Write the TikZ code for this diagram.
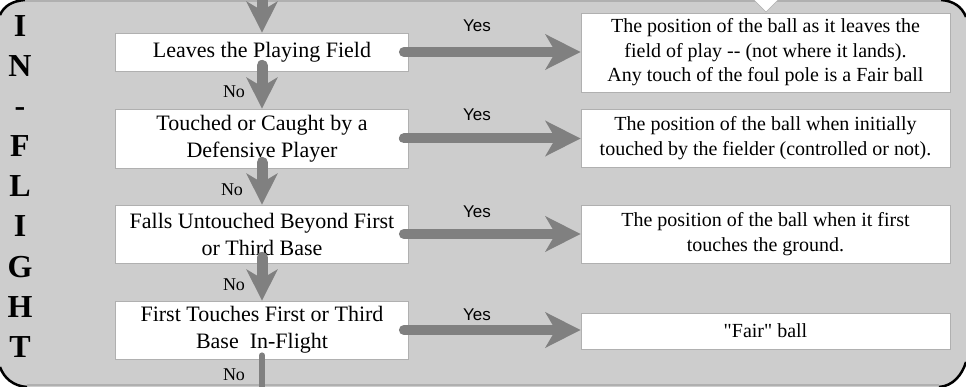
\documentclass[tikz,border=0pt]{standalone}
\usepackage{fontspec}
\setmainfont{Liberation Serif}
\newfontfamily\labelsans{Liberation Sans}
\newfontfamily\plainserif{Liberation Serif}
\usetikzlibrary{arrows.meta}
\definecolor{panelgray}{HTML}{CDCDCD}
\definecolor{flowgray}{HTML}{808080}
\definecolor{edgegray}{HTML}{B0B0B0}

\begin{document}
\begin{tikzpicture}[x=1pt,y=-1pt,
    testbox/.style={draw=edgegray,fill=white,line width=0.8pt,minimum width=293pt,inner sep=0pt,align=center,font=\fontsize{22}{27}\selectfont},
    resultbox/.style={draw=edgegray,fill=white,line width=0.8pt,minimum width=369pt,inner sep=0pt,align=center,font=\fontsize{20}{24.5}\selectfont},
    yesarrow/.style={draw=flowgray,line width=10pt,line cap=round,-{Stealth[length=35pt,width=35pt,inset=10pt]}},
    noarrow/.style={draw=flowgray,line width=11pt,line cap=round,-{Stealth[length=31pt,width=31pt,inset=9pt]}},
    cornerarc/.style={line width=2.5pt},
    yeslabel/.style={font=\labelsans\fontsize{17}{17}\selectfont},
    nolabel/.style={font=\fontsize{18}{18}\selectfont},
    sideletter/.style={font=\bfseries\fontsize{32}{32}\selectfont,anchor=base}]

    \useasboundingbox (0,0) rectangle (966,387);
    \fill[panelgray] (0,0) rectangle (966,387);
    \fill[white] (0,0) -- (0,15) .. controls (4,6) and (12,1) .. (25,0) -- cycle;
    \draw[cornerarc] (0,15) .. controls (4,6) and (12,1) .. (25,0);
    \fill[white] (966,0) -- (966,17) .. controls (962,7) and (954,1) .. (941,0) -- cycle;
    \draw[cornerarc] (966,17) .. controls (962,7) and (954,1) .. (941,0);
    \fill[white] (0,387) -- (0,367) .. controls (4,378) and (13,386) .. (27,387) -- cycle;
    \draw[cornerarc] (0,367) .. controls (4,378) and (13,386) .. (27,387);
    \fill[white] (966,387) -- (966,362) .. controls (962,375) and (953,386) .. (939,387) -- cycle;
    \draw[cornerarc] (966,362) .. controls (962,375) and (953,386) .. (939,387);
    \draw[edgegray,line width=1.2pt] (25,1) -- (941,1);
    \draw[edgegray,line width=1.2pt] (27,385) -- (939,385);
    \filldraw[fill=white,draw=edgegray] (754,0) -- (766,12) -- (778,0);

    \foreach \ch [count=\i from 0] in {I,N,-,F,L,I,G,H,T}
        \node[sideletter] (side\i) at (20,37+40*\i) {\ch};

    \node[testbox,minimum height=38pt] (field) at (262,52) {Leaves the Playing Field};
    \node[testbox,minimum height=59pt] (touch) at (262,138.5) {Touched or Caught by a\\Defensive Player};
    \node[testbox,minimum height=58pt] (beyond) at (262,234) {Falls Untouched Beyond First\\or Third Base};
    \node[testbox,minimum height=58pt] (base) at (262,330) {First Touches First or Third\\Base\ \ In-Flight};

    \node[resultbox,minimum height=79pt] (leaves) at (765.5,52.5) {The position of the ball as it leaves the\\field of play -{}- (not where it lands).\\Any touch of the foul pole is a Fair ball};
    \node[resultbox,minimum height=58pt] (fielder) at (765.5,138) {The position of the ball when initially\\touched by the fielder (controlled or not).};
    \node[resultbox,minimum height=58pt] (ground) at (765.5,234) {The position of the ball when it first\\touches the ground.};
    \node[resultbox,minimum height=36pt] (fair) at (765.5,331) {\plainserif "Fair" ball};

    \coordinate (entry) at (262,-14);
    \coordinate (exit) at (262,392);
    \draw[noarrow] (entry) -- (field.north);
    \draw[noarrow] ([yshift=6pt]field.south) -- (touch.north);
    \draw[noarrow] ([yshift=6pt]touch.south) -- (beyond.north);
    \draw[noarrow] ([yshift=6pt]beyond.south) -- (base.north);
    \draw[flowgray,line width=6pt,line cap=round] ([yshift=4pt]base.south) -- (exit);

    \draw[yesarrow] ([xshift=-5pt]field.east) -- (field.east -| leaves.west);
    \draw[yesarrow] ([xshift=-5pt]touch.east) -- (touch.east -| fielder.west);
    \draw[yesarrow] ([xshift=-5pt]beyond.east) -- (beyond.east -| ground.west);
    \draw[yesarrow] ([xshift=-5pt]base.east) -- (base.east -| fair.west);

    \node[yeslabel] (yes1) at (477,26) {Yes};
    \node[yeslabel] (yes2) at (477,115) {Yes};
    \node[yeslabel] (yes3) at (477,212) {Yes};
    \node[yeslabel] (yes4) at (477,315) {Yes};

    \node[nolabel] (no1) at (234,92) {No};
    \node[nolabel] (no2) at (232,190) {No};
    \node[nolabel] (no3) at (234,285) {No};
    \node[nolabel] (no4) at (234,375) {No};
\end{tikzpicture}
\end{document}
